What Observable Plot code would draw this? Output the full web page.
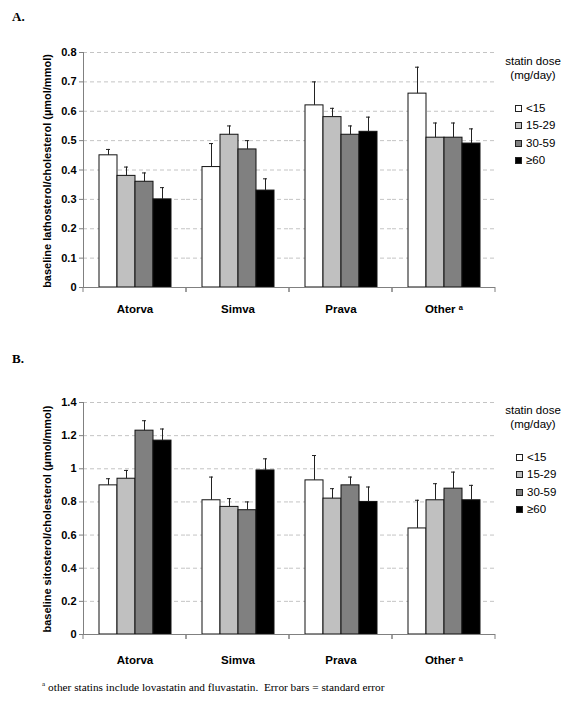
<!DOCTYPE html>
<html><head><meta charset="utf-8">
<script src="https://cdn.jsdelivr.net/npm/d3@7"></script>
<script src="https://cdn.jsdelivr.net/npm/@observablehq/plot@0.6"></script>
<style>
body{margin:0;background:#fff}
#root{position:relative;width:583px;height:705px;font-family:"Liberation Sans",Arial,sans-serif;color:#000;background:#fff;overflow:hidden}
.abs{position:absolute;white-space:nowrap;line-height:14px}
.plot{position:absolute;left:0}
.panel{font-family:"Liberation Serif","Times New Roman",serif;font-weight:bold;font-size:13px}
.ylab{font-weight:bold;font-size:11px;transform:translate(-50%,-50%) rotate(-90deg);}
.legtitle{font-size:11.5px;transform:translateX(-50%);text-align:center}
.legitem{font-size:11.5px;display:flex;align-items:center}
.sw{display:inline-block;width:5px;height:5px;border:1px solid #222;margin-right:4px}
.foot{font-family:"Liberation Serif","Times New Roman",serif;font-size:11.3px;white-space:pre}
</style></head><body><div id="root"></div>
<script>
const categories = ["Atorva", "Simva", "Prava", "Other"];
const doses = ["<15", "15-29", "30-59", "≥60"];
const doseColors = ["#ffffff", "#c0c0c0", "#808080", "#000000"];
// panel A: baseline lathosterol/cholesterol
const lathoValues = [[0.45, 0.38, 0.36, 0.30], [0.41, 0.52, 0.47, 0.33], [0.62, 0.58, 0.52, 0.53], [0.66, 0.51, 0.51, 0.49]];
const lathoErrors = [[0.02, 0.03, 0.03, 0.04], [0.08, 0.03, 0.03, 0.04], [0.08, 0.03, 0.03, 0.05], [0.09, 0.05, 0.05, 0.05]];
const lathoTicks = [0, 0.1, 0.2, 0.3, 0.4, 0.5, 0.6, 0.7, 0.8];
// panel B: baseline sitosterol/cholesterol
const sitoValues = [[0.90, 0.94, 1.23, 1.17], [0.81, 0.77, 0.75, 0.99], [0.93, 0.82, 0.90, 0.80], [0.64, 0.81, 0.88, 0.81]];
const sitoErrors = [[0.04, 0.05, 0.06, 0.07], [0.14, 0.05, 0.05, 0.07], [0.15, 0.06, 0.05, 0.09], [0.17, 0.10, 0.10, 0.09]];
const sitoTicks = [0, 0.2, 0.4, 0.6, 0.8, 1, 1.2, 1.4];
const lathoLabel = "baseline lathosterol/cholesterol (µmol/mmol)";
const sitoLabel = "baseline sitosterol/cholesterol (µmol/mmol)";
const legendTitle = ["statin dose", "(mg/day)"];
const footnote = "other statins include lovastatin and fluvastatin.  Error bars = standard error";

const root = document.getElementById("root");
const FONT = '"Liberation Sans", Arial, sans-serif';

function groupTicks(index, scales, values, dims) {
  const {width, marginLeft, marginRight} = dims;
  const y0 = scales.y(0);
  const g = d3.create("svg:g").attr("stroke", "#808080").attr("fill", "none");
  for (const x of [marginLeft, width - marginRight]) {
    g.append("line").attr("x1", x).attr("x2", x).attr("y1", y0).attr("y2", y0 + 5);
  }
  return g.node();
}

function panel({values, errors, ticks, height, marginTop, marginBottom, labelPad}) {
  const rows = [];
  categories.forEach((c, i) => doses.forEach((d, j) => rows.push({cat: c, dose: d, value: values[i][j], top: values[i][j] + errors[i][j]})));
  return Plot.plot({
    width: 583, height, marginTop, marginBottom, marginLeft: 82, marginRight: 88,
    style: {fontFamily: FONT, background: "transparent", color: "#000"},
    fx: {domain: categories, padding: 0},
    x: {domain: doses, paddingInner: 0, paddingOuter: 0.72, axis: null},
    y: {domain: [0, ticks[ticks.length - 1]]},
    color: {domain: doses, range: doseColors},
    marks: [
      Plot.gridY(ticks.filter(t => t > 0), {stroke: "#c4c4c4", strokeOpacity: 1, strokeDasharray: "4,3"}),
      Plot.barY(rows, {fx: "cat", x: "dose", y: "value", fill: "dose", stroke: "#111", strokeWidth: 1}),
      Plot.ruleX(rows, {fx: "cat", x: "dose", y1: "value", y2: "top", stroke: "#222"}),
      Plot.tickY(rows, {fx: "cat", x: "dose", y: "top", stroke: "#222", insetLeft: 7, insetRight: 7}),
      Plot.ruleY([0], {stroke: "#808080"}),
      groupTicks,
      Plot.frame({anchor: "left", facetAnchor: "left", stroke: "#808080"}),
      Plot.axisY({ticks, tickSize: 4, tickPadding: 3, tickFormat: d => String(d), fontSize: 11, fontWeight: "bold", stroke: "#808080", fill: "#000", label: null}),
      Plot.axisFx({anchor: "bottom", tickSize: 0, tickPadding: labelPad, fontSize: 11.5, fontWeight: "bold", fill: "#000", label: null, tickFormat: c => c === "Other" ? "Other ᵃ" : c})
    ]
  });
}

function place(el, top) { el.classList.add("plot"); el.style.top = top + "px"; root.appendChild(el); }
function addText(cls, text, left, top) {
  const d = document.createElement("div");
  d.className = "abs " + cls; d.textContent = text;
  d.style.left = left + "px"; d.style.top = top + "px";
  root.appendChild(d); return d;
}
function legend(cx, titleTop, itemTops, swLeft) {
  addText("legtitle", legendTitle[0], cx, titleTop);
  addText("legtitle", legendTitle[1], cx, titleTop + 14);
  doses.forEach((d, i) => {
    const it = document.createElement("div");
    it.className = "abs legitem";
    it.style.left = swLeft + "px"; it.style.top = itemTops[i] + "px";
    const sw = document.createElement("span"); sw.className = "sw"; sw.style.background = doseColors[i];
    it.appendChild(sw); it.appendChild(document.createTextNode(d));
    root.appendChild(it);
  });
}

// Panel A
addText("panel", "A.", 12, 10);
place(panel({values: lathoValues, errors: lathoErrors, ticks: lathoTicks, height: 330, marginTop: 52, marginBottom: 43, labelPad: 17}), 0);
addText("ylab", lathoLabel, 47, 171);
legend(533, 54, [101, 118, 136, 153], 515);

// Panel B
addText("panel", "B.", 12, 352);
place(panel({values: sitoValues, errors: sitoErrors, ticks: sitoTicks, height: 350, marginTop: 72, marginBottom: 46, labelPad: 21}), 330);
addText("ylab", sitoLabel, 47, 519);
legend(533, 403, [450, 467, 485, 502], 516);

// footnote
const f = addText("foot", "", 42, 677);
const sup = document.createElement("sup"); sup.textContent = "a"; sup.style.fontSize = "7px"; sup.style.marginRight = "3px";
f.appendChild(sup); f.appendChild(document.createTextNode(footnote));
</script></body></html>
